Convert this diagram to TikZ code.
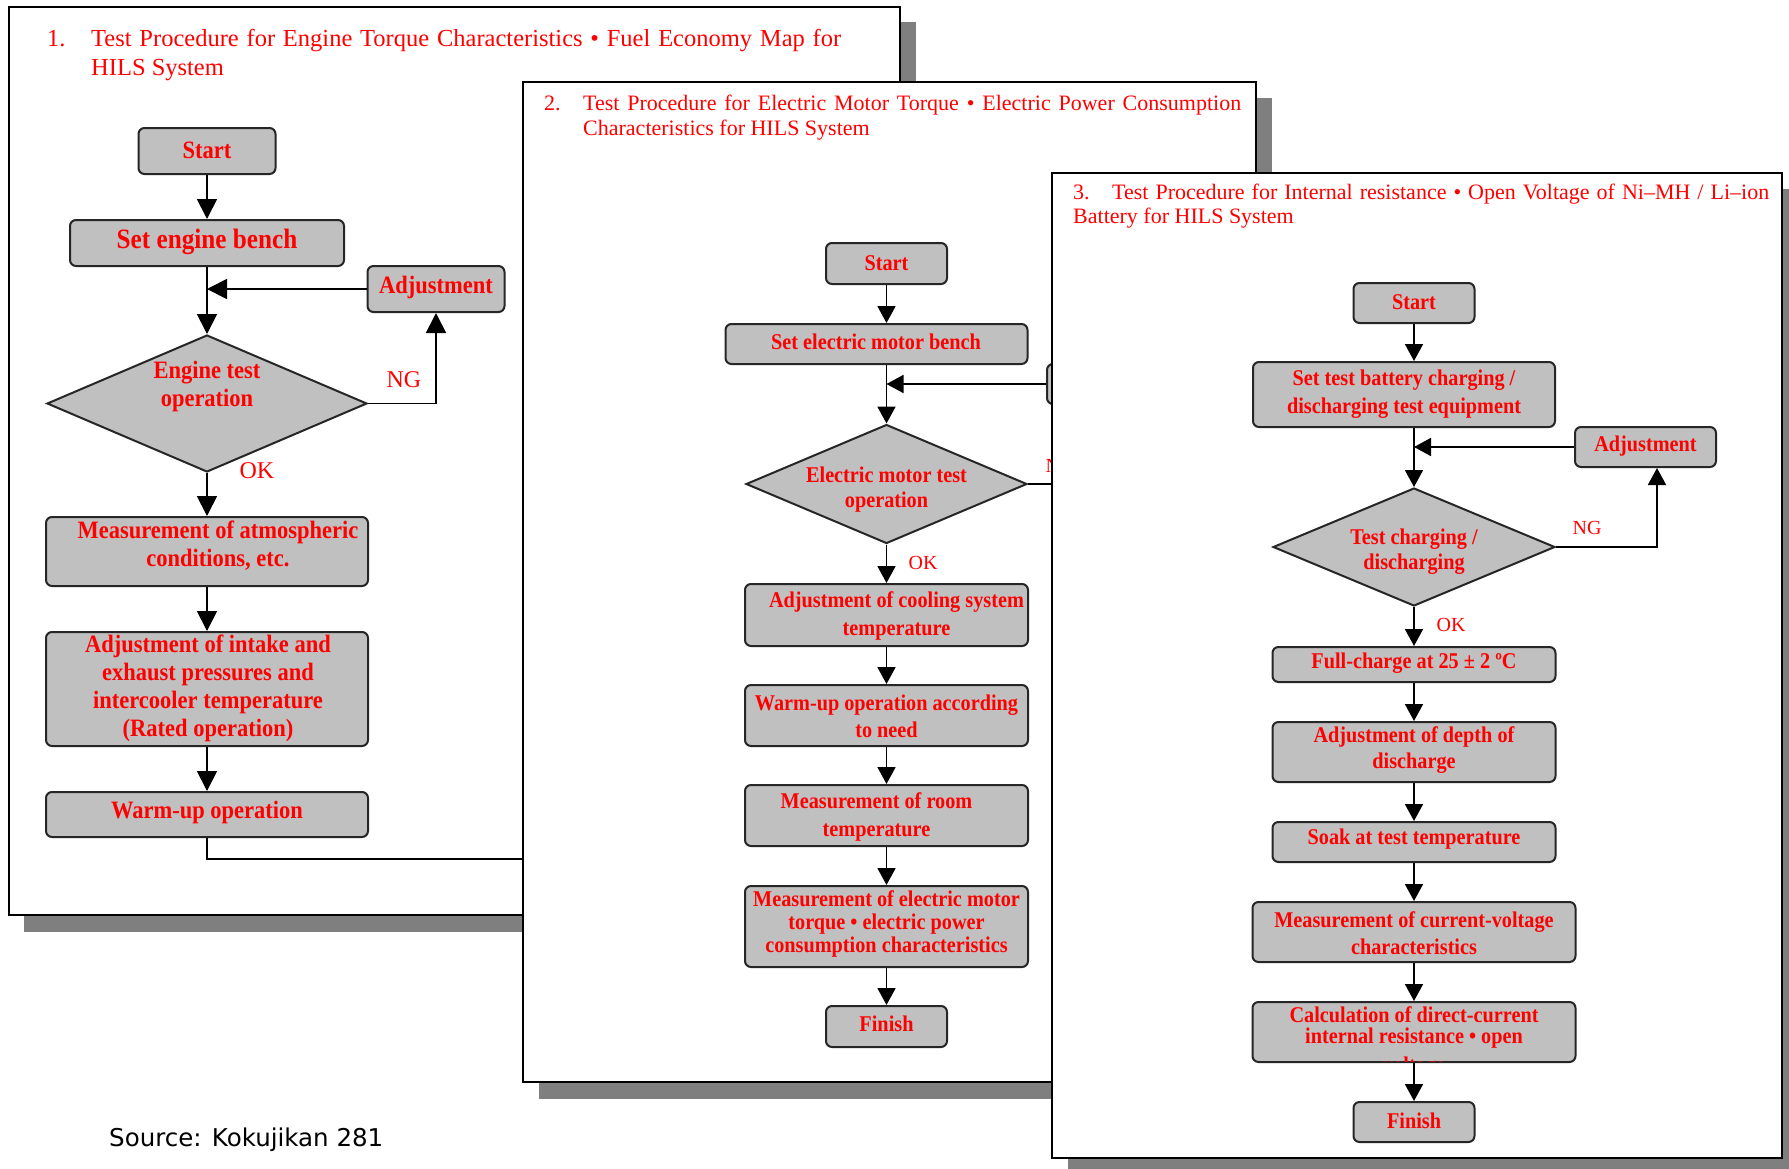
\documentclass[tikz,border=0pt]{standalone}
\usepackage{fontspec}
\setmainfont{Liberation Serif}
\newfontfamily\boxface[FakeStretch=0.9]{Liberation Serif}
\newfontfamily\sourceface{DejaVu Sans}
\usetikzlibrary{shapes.geometric,arrows.meta}
\definecolor{boxgray}{HTML}{C0C0C0}
\definecolor{boxedge}{HTML}{262626}
\definecolor{shade}{HTML}{7F7F7F}
\definecolor{txtred}{HTML}{FF0000}
\tikzset{
  sheet/.style={draw=black, line width=2.2pt, fill=white},
  sheetshadow/.style={fill=shade},
  pbox/.style={draw=boxedge, line width=2pt, fill=boxgray, rounded corners=6pt, inner sep=0pt},
  decision/.style={diamond, draw=boxedge, line width=2pt, fill=boxgray, inner sep=0pt},
  txt/.style={text=txtred, align=center, inner sep=0pt},
  bigtxt/.style={txt, font=\boxface\bfseries\fontsize{25}{28}\selectfont},
  smalltxt/.style={txt, font=\boxface\bfseries\fontsize{22.5}{28}\selectfont},
  flowline/.style={line width=1.8pt, draw=black},
  arrA/.style={flowline, -{Triangle[length=20pt,width=20pt]}},
  arrB/.style={flowline, -{Triangle[length=17pt,width=18pt]}},
  heading/.style={text=txtred, anchor=base west, inner sep=0pt},
  branch/.style={text=txtred, inner sep=0pt},
}
\begin{document}
\begin{tikzpicture}[x=1pt,y=-1pt]
\clip (0,0) rectangle (1789,1168);
\fill[white] (0,0) rectangle (1789,1168);

% ---------------- sheet 1: engine ----------------
\fill[sheetshadow] (24,22) rectangle (916,932);
\draw[sheet] (9,7) rectangle (900,915);
\begin{scope}[font=\fontsize{24.5}{28.5}\selectfont]
\node[heading] (h1n) at (47,46.7) {1.};
\node[heading] (h1a) at (91,46.7) {\makebox[750pt][s]{Test Procedure for Engine Torque Characteristics • Fuel Economy Map for}};
\node[heading] (h1b) at (91,75) {HILS System};
\end{scope}

\node[pbox, minimum width=137pt, minimum height=46pt] (p1start) at (207,151) {};
\node[bigtxt] (p1startT) at (207,150) {Start};
\node[pbox, minimum width=274pt, minimum height=46pt] (p1bench) at (207,243) {};
\node[bigtxt, font=\boxface\bfseries\fontsize{28}{30}\selectfont] (p1benchT) at (207,242) {Set engine bench};
\node[pbox, minimum width=137pt, minimum height=46pt] (p1adj) at (436,289) {};
\node[bigtxt] (p1adjT) at (436,287) {Adjustment};
\node[decision, minimum width=320pt, minimum height=137pt] (p1dec) at (207,403.5) {};
\node[bigtxt] (p1decT) at (207,386) {Engine test\\operation};
\node[pbox, minimum width=322pt, minimum height=69pt] (p1atm) at (207,551.5) {};
\node[bigtxt] (p1atmT) at (218,546) {Measurement of atmospheric\\conditions, etc.};
\node[pbox, minimum width=322pt, minimum height=114pt] (p1intake) at (207,689) {};
\node[bigtxt] (p1intakeT) at (208,688) {Adjustment of intake and\\exhaust pressures and\\intercooler temperature\\(Rated operation)};
\node[pbox, minimum width=322pt, minimum height=45pt] (p1warm) at (207,814.5) {};
\node[bigtxt] (p1warmT) at (207,812) {Warm-up operation};
\coordinate (p1exit) at (700,859);

\draw[arrA] (p1start.south) -- (p1bench.north);
\draw[arrA] (p1bench.south) -- (p1dec.north);
\draw[arrA] (p1adj.west) -- (p1adj.west -| p1bench.south);
\draw[arrA] (p1dec.east) -| (p1adj.south);
\draw[arrA] (p1dec.south) -- (p1atm.north);
\draw[arrA] (p1atm.south) -- (p1intake.north);
\draw[arrA] (p1intake.south) -- (p1warm.north);
\draw[flowline] (p1warm.south) |- (p1exit);
\node[branch, font=\fontsize{24}{26}\selectfont] (p1ng) at (404,380) {NG};
\node[branch, font=\fontsize{24}{26}\selectfont] (p1ok) at (257,471) {OK};

% ---------------- sheet 2: electric motor ----------------
\fill[sheetshadow] (539,98) rectangle (1272,1099);
\draw[sheet] (523,82) rectangle (1256,1082);
\begin{scope}[font=\fontsize{22}{24.5}\selectfont]
\node[heading] (h2n) at (544,110.7) {2.};
\node[heading] (h2a) at (583,110.7) {\makebox[658pt][s]{Test Procedure for Electric Motor Torque • Electric Power Consumption}};
\node[heading] (h2b) at (583,135) {Characteristics for HILS System};
\end{scope}

\node[pbox, minimum width=121pt, minimum height=41pt] (p2start) at (886.5,263.5) {};
\node[smalltxt] (p2startT) at (886.5,263) {Start};
\node[pbox, minimum width=302pt, minimum height=40pt] (p2bench) at (876.5,344) {};
\node[smalltxt] (p2benchT) at (876,342) {Set electric motor bench};
\node[pbox, minimum width=141pt, minimum height=40pt] (p2adj) at (1117.5,384) {};
\node[smalltxt] (p2adjT) at (1117.5,383) {Adjustment};
\node[decision, minimum width=281pt, minimum height=119pt] (p2dec) at (886.5,484) {};
\node[smalltxt, font=\boxface\bfseries\fontsize{22.5}{25}\selectfont] (p2decT) at (886.5,489.5) {Electric motor test\\operation};
\node[pbox, minimum width=283pt, minimum height=62pt] (p2cool) at (886.5,615) {};
\node[smalltxt] (p2coolT) at (896.5,616) {Adjustment of cooling system\\temperature};
\node[pbox, minimum width=283pt, minimum height=61pt] (p2warm) at (886.5,715.5) {};
\node[smalltxt, font=\boxface\bfseries\fontsize{22.5}{27}\selectfont] (p2warmT) at (886.5,716.5) {Warm-up operation according\\to need};
\node[pbox, minimum width=283pt, minimum height=61pt] (p2room) at (886.5,815.5) {};
\node[smalltxt] (p2roomT) at (876.5,817) {Measurement of room\\temperature};
\node[pbox, minimum width=283pt, minimum height=81pt] (p2meas) at (886.5,926.5) {};
\node[smalltxt, font=\boxface\bfseries\fontsize{22.5}{23}\selectfont] (p2measT) at (886.5,924) {Measurement of electric motor\\torque • electric power\\consumption characteristics};
\node[pbox, minimum width=121pt, minimum height=41pt] (p2fin) at (886.5,1026.5) {};
\node[smalltxt] (p2finT) at (886.5,1024) {Finish};

\draw[arrB] (p2start.south) -- (p2start.south |- p2bench.north);
\draw[arrB] (p2start.south |- p2bench.south) -- (p2dec.north);
\draw[arrB] (p2adj.west) -- (p2adj.west -| p2dec.north);
\draw[arrB] (p2dec.east) -| ([xshift=11.5pt]p2adj.south);
\draw[arrB] (p2dec.south) -- (p2cool.north);
\draw[arrB] (p2cool.south) -- (p2warm.north);
\draw[arrB] (p2warm.south) -- (p2room.north);
\draw[arrB] (p2room.south) -- (p2meas.north);
\draw[arrB] (p2meas.south) -- (p2fin.north);
\node[branch, font=\fontsize{20}{22}\selectfont] (p2ng) at (1060,466) {NG};
\node[branch, font=\fontsize{20}{22}\selectfont] (p2ok) at (923,563) {OK};

% ---------------- sheet 3: battery ----------------
\fill[sheetshadow] (1068,189) rectangle (1800,1175);
\draw[sheet] (1052,173) rectangle (1782,1158);
\begin{scope}[font=\fontsize{22}{24}\selectfont]
\node[heading] (h3n) at (1073,199.3) {3.};
\node[heading] (h3a) at (1112,199.3) {\makebox[657pt][s]{Test Procedure for Internal resistance • Open Voltage of Ni–MH / Li–ion}};
\node[heading] (h3b) at (1073,223.5) {Battery for HILS System};
\end{scope}

\node[pbox, minimum width=121pt, minimum height=40pt] (p3start) at (1414,303) {};
\node[smalltxt] (p3startT) at (1414,302) {Start};
\node[pbox, minimum width=302pt, minimum height=65pt] (p3set) at (1404,394.5) {};
\node[smalltxt] (p3setT) at (1404,394) {Set test battery charging /\\discharging test equipment};
\node[pbox, minimum width=141pt, minimum height=40pt] (p3adj) at (1645.5,447) {};
\node[smalltxt] (p3adjT) at (1645.5,446) {Adjustment};
\node[decision, minimum width=282pt, minimum height=118pt] (p3dec) at (1414,547) {};
\node[smalltxt, font=\boxface\bfseries\fontsize{22.5}{25}\selectfont] (p3decT) at (1414,551.5) {Test charging /\\discharging};
\node[pbox, minimum width=283pt, minimum height=35pt] (p3full) at (1414,664.5) {};
\node[smalltxt] (p3fullT) at (1414,663) {Full-charge at 25 ± 2 ºC};
\node[pbox, minimum width=283pt, minimum height=60pt] (p3depth) at (1414,752) {};
\node[smalltxt, font=\boxface\bfseries\fontsize{22.5}{26}\selectfont] (p3depthT) at (1414,750) {Adjustment of depth of\\discharge};
\node[pbox, minimum width=283pt, minimum height=40pt] (p3soak) at (1414,842) {};
\node[smalltxt] (p3soakT) at (1414,839) {Soak at test temperature};
\node[pbox, minimum width=323pt, minimum height=60pt] (p3iv) at (1414,932) {};
\node[smalltxt, font=\boxface\bfseries\fontsize{22.5}{27}\selectfont] (p3ivT) at (1414,933.5) {Measurement of current-voltage\\characteristics};
\node[pbox, minimum width=323pt, minimum height=60pt] (p3calc) at (1414,1032) {};
\node[smalltxt, font=\boxface\bfseries\fontsize{22.5}{21}\selectfont] (p3calcT) at (1414,1027.5) {Calculation of direct-current\\internal resistance • open};
% the last word overflows the box and is cut off at its lower edge
\begin{scope}
  \clip ([shift={(2pt,2pt)}]p3calc.south west) rectangle ([shift={(-2pt,-2pt)}]p3calc.north east);
  \node[smalltxt, anchor=base] (p3calcV) at (1414,1072) {voltage};
\end{scope}
\node[pbox, minimum width=121pt, minimum height=40pt] (p3fin) at (1414,1122) {};
\node[smalltxt] (p3finT) at (1414,1121) {Finish};

\draw[arrB] (p3start.south) -- (p3start.south |- p3set.north);
\draw[arrB] (p3start.south |- p3set.south) -- (p3dec.north);
\draw[arrB] (p3adj.west) -- (p3adj.west -| p3dec.north);
\draw[arrB] (p3dec.east) -| ([xshift=11.5pt]p3adj.south);
\draw[arrB] (p3dec.south) -- (p3full.north);
\draw[arrB] (p3full.south) -- (p3depth.north);
\draw[arrB] (p3depth.south) -- (p3soak.north);
\draw[arrB] (p3soak.south) -- (p3iv.north);
\draw[arrB] (p3iv.south) -- (p3calc.north);
\draw[arrB] (p3calc.south) -- (p3fin.north);
\node[branch, font=\fontsize{20}{22}\selectfont] (p3ng) at (1587,528) {NG};
\node[branch, font=\fontsize{20}{22}\selectfont] (p3ok) at (1451,625) {OK};

% ---------------- source line ----------------
\node[anchor=base west, inner sep=0pt, font=\sourceface\fontsize{24.5}{29}\selectfont] (src) at (109,1146) {Source: Kokujikan 281};
\end{tikzpicture}
\end{document}
